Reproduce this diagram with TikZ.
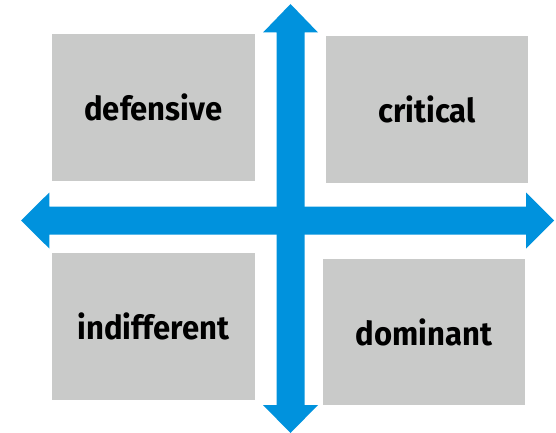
\documentclass[tikz,border=0pt]{standalone}
\usepackage{fontspec}
\newfontfamily\lblfont{Fira Sans}[FakeStretch=0.94]
\definecolor{axisblue}{RGB}{0,146,221}
\definecolor{boxgray}{RGB}{201,202,201}
\tikzset{
  quad/.style={fill=boxgray, draw=none, inner sep=0pt, minimum width=202.5pt, minimum height=146.5pt,
    font=\lblfont\bfseries\fontsize{33}{36}\selectfont, text=black},
  axisfill/.style={fill=axisblue, draw=none}
}
\begin{document}
\begin{tikzpicture}[x=1pt,y=-1pt]
\useasboundingbox (0,0) rectangle (556,433);
\node[quad] (def) at (153.3,107.7) {defensive};
\node[quad] (cri) at (427,109.3) {critical};
\node[quad] (ind) at (153.3,326.5) {indifferent};
\node[quad] (dom) at (423.8,332) {dominant};
% vertical double arrow
\fill[axisfill] (290.5,4) -- (318,32.5) -- (304.5,32.5) -- (304.5,405) -- (318,405) -- (290.5,433)
  -- (263,405) -- (276.5,405) -- (276.5,32.5) -- (263,32.5) -- cycle;
% horizontal double arrow
\fill[axisfill] (21,220.5) -- (49.3,192.5) -- (49.3,206.5) -- (526,206.5) -- (526,192.5) -- (554,220.5)
  -- (526,248.5) -- (526,234.5) -- (49.3,234.5) -- (49.3,248.5) -- cycle;
\end{tikzpicture}
\end{document}
